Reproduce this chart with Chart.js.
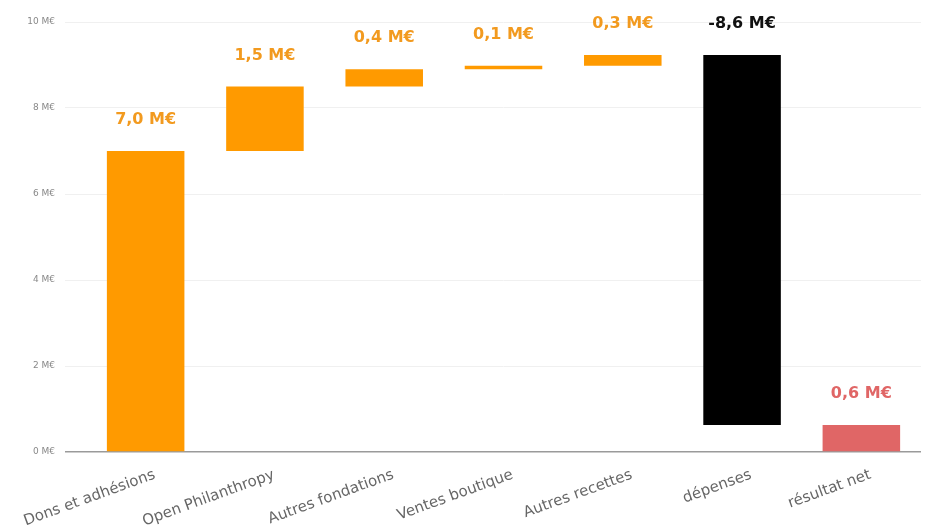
<!DOCTYPE html>
<html>
<head>
<meta charset="utf-8">
<script src="https://cdn.jsdelivr.net/npm/chart.js@4"></script>
<style>
  html, body { margin: 0; padding: 0; background: #fff; }
  #wrap { width: 930px; height: 528px; }
</style>
</head>
<body>
<div id="wrap"><canvas id="cascade"></canvas></div>
<script>
// Données (en M€)
const categories = ['Dons et adhésions', 'Open Philanthropy', 'Autres fondations', 'Ventes boutique', 'Autres recettes', 'dépenses', 'résultat net'];
const amounts = [7.0, 1.5, 0.4, 0.08, 0.25, -8.6];
const yTicks = [0, 2, 4, 6, 8, 10];

const barColors = ['#ff9a00', '#ff9a00', '#ff9a00', '#ff9a00', '#ff9a00', '#000000', '#e06666'];
const labelColors = ['#f29a1f', '#f29a1f', '#f29a1f', '#f29a1f', '#f29a1f', '#111111', '#e06666'];

// Construction des barres flottantes (cascade)
let running = 0;
const ranges = [];
const shown = [];
amounts.forEach(a => {
    ranges.push([running, running + a]);
    shown.push(a);
    running += a;
});
ranges.push([0, running]);
shown.push(running);

function fmt(v) {
    return v.toFixed(1).replace('.', ',') + ' M€';
}

const valueLabels = {
    id: 'valueLabels',
    afterDatasetsDraw(chart) {
        const ctx = chart.ctx;
        const meta = chart.getDatasetMeta(0);
        ctx.save();
        ctx.font = 'bold 16px "DejaVu Sans"';
        ctx.textAlign = 'center';
        ctx.textBaseline = 'middle';
        meta.data.forEach((bar, i) => {
            const top = Math.min(bar.y, bar.base);
            ctx.fillStyle = labelColors[i];
            ctx.fillText(fmt(shown[i]), bar.x, top - 31);
        });
        ctx.restore();
    }
};

new Chart(document.getElementById('cascade'), {
    type: 'bar',
    data: {
        labels: categories,
        datasets: [{
            data: ranges,
            backgroundColor: barColors,
            borderWidth: 0,
            barPercentage: 0.65,
            categoryPercentage: 1
        }]
    },
    options: {
        responsive: true,
        maintainAspectRatio: false,
        animation: false,
        layout: { padding: { top: 22, right: 9, left: 0, bottom: 0 } },
        plugins: {
            legend: { display: false },
            tooltip: { enabled: false }
        },
        scales: {
            x: {
                grid: { display: false },
                border: { display: false },
                ticks: {
                    color: '#666',
                    font: { family: 'DejaVu Sans', size: 15 },
                    minRotation: 20,
                    maxRotation: 20,
                    padding: 6,
                    labelOffset: 9
                },
                afterFit(scale) { scale.height = 76; }
            },
            y: {
                min: 0,
                max: 10,
                afterBuildTicks(scale) { scale.ticks = yTicks.map(v => ({ value: v })); },
                grid: {
                    color: ctx => ctx.tick && ctx.tick.value === 0 ? '#9a9a9a' : '#f0f0f0',
                    lineWidth: ctx => ctx.tick && ctx.tick.value === 0 ? 1.5 : 1,
                    tickLength: 21
                },
                border: { display: false },
                ticks: {
                    color: '#888',
                    font: { family: 'DejaVu Sans', size: 9 },
                    padding: 10,
                    callback: v => v + ' M€'
                },
                afterFit(scale) { scale.width = 86; }
            }
        }
    },
    plugins: [valueLabels]
});
</script>
</body>
</html>
